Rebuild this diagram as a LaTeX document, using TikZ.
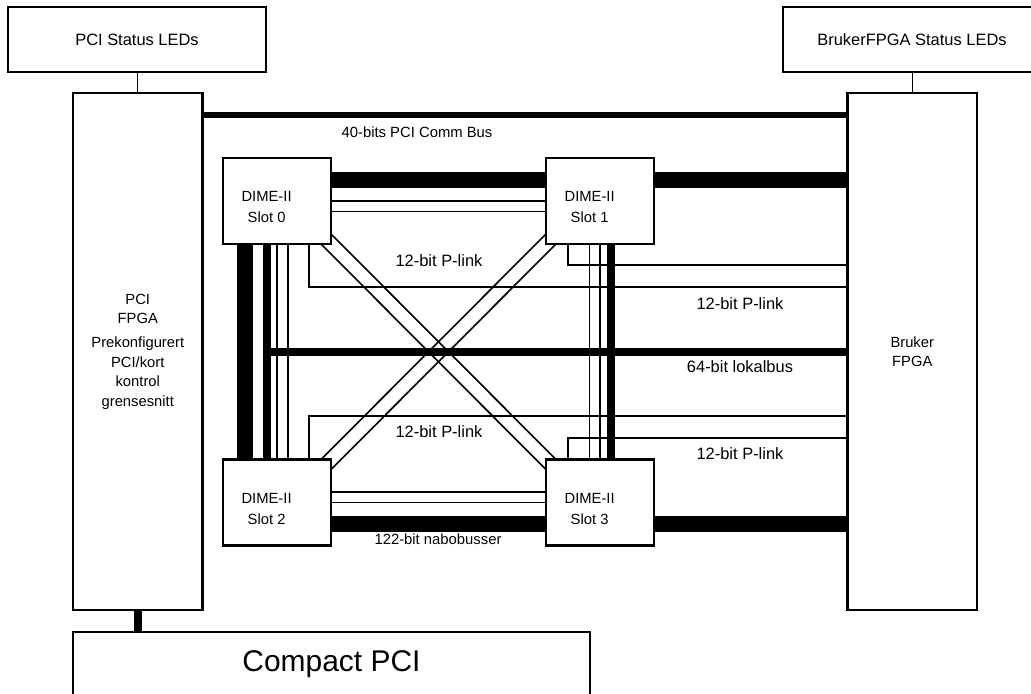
\documentclass[tikz,border=0pt]{standalone}
\usepackage{fontspec}
\setmainfont{Liberation Sans}
\usetikzlibrary{positioning,backgrounds}

\begin{document}
\begin{tikzpicture}[
  block/.style={draw=black,fill=white,line width=1.6pt,align=center,inner sep=0pt,
    font=\fontsize{10.5}{13.9}\selectfont},
  leds/.style={block,minimum width=6.45cm,minimum height=1.625cm,
    font=\fontsize{11.7}{14}\selectfont},
  fpga/.style={block,minimum width=3.2375cm,minimum height=12.925cm},
  slottext/.style={xshift=-0.26cm,yshift=-0.16cm,align=center,inner sep=0pt,
    font=\fontsize{10.5}{15}\selectfont},
  slot/.style={block,minimum width=2.7cm,minimum height=2.15cm,
    label={[slottext]center:{DIME-II\\Slot #1}}},
  board/.style={block,minimum width=12.925cm,minimum height=1.625cm,
    font=\fontsize{21.3}{24}\selectfont},
  buslabel/.style={inner sep=0pt,font=\fontsize{11.7}{13}\selectfont},
  smalllabel/.style={inner sep=0pt,font=\fontsize{10.55}{12}\selectfont},
  wire/.style={draw=black,line width=0.7pt},
  plink/.style={draw=black,line width=1.15pt},
  nbus/.style={draw=black,line width=0.4cm},
  lbus/.style={draw=black,line width=0.2cm},
  pcibus/.style={draw=black,line width=0.16cm}
]
\useasboundingbox (0,0) rectangle (25.775,-17.35);
\clip (0,0) rectangle (25.775,-17.35);

\node[leds] (pcileds) at (3.425,-0.9875) {PCI Status LEDs};
\node[leds] (brukerleds) at (22.8,-0.9875) {BrukerFPGA Status LEDs};

\node[fpga] (pcifpga) at (3.444,-8.7875)
  {PCI\\FPGA\\[3pt]Prekonfigurert\\PCI/kort\\kontrol\\grensesnitt};
\node[fpga] (brukerfpga) at (22.806,-8.7875) {Bruker\\FPGA};

\node[slot=0] (s0) at (6.925,-5.025) {};
\node[slot=1] (s1) at (15.0,-5.025) {};
\node[slot=2] (s2) at (6.925,-12.5625) {};
\node[slot=3] (s3) at (15.0,-12.5625) {};

\node[board] (cpci) at (8.2875,-16.6125) {Compact PCI};

% bus rows and columns
\coordinate (pcirow) at (0,-2.875);
\coordinate (nbtop) at (0,-4.4875);
\coordinate (nbbot) at (0,-13.1);
\coordinate (nbleft) at (6.125,0);
\coordinate (lbleft) at (6.6625,0);
\coordinate (lbright) at (15.275,0);
\coordinate (lbrow) at (0,-8.8);
\coordinate (pl1row) at (0,-6.625);
\coordinate (pl0row) at (0,-7.175);
\coordinate (pl2row) at (0,-10.4);
\coordinate (pl3row) at (0,-10.95);

\begin{pgfonlayer}{background}
\draw[wire] (pcileds.south) -- (pcileds.south |- pcifpga.north);
\draw[wire] (brukerleds.south) -- (brukerleds.south |- brukerfpga.north);
\draw[pcibus] (pcifpga.east |- pcirow) -- (brukerfpga.west |- pcirow);
\draw[lbus] (pcifpga.south) -- (pcifpga.south |- cpci.north);

% neighbour bus
\draw[nbus] (s0.east |- nbtop) -- (s1.west |- nbtop);
\draw[nbus] (s1.east |- nbtop) -- (brukerfpga.west |- nbtop);
\draw[nbus] (s0.south -| nbleft) -- (s2.north -| nbleft);
\draw[nbus] (s2.east |- nbbot) -- (s3.west |- nbbot);
\draw[nbus] (s3.east |- nbbot) -- (brukerfpga.west |- nbbot);

% local bus
\draw[lbus] (s0.south -| lbleft) -- (s2.north -| lbleft);
\draw[lbus] (s1.south -| lbright) -- (s3.north -| lbright);
\draw[lbus] (lbleft |- lbrow) -- (brukerfpga.west |- lbrow);

% P-links between slots
\foreach \dy in {0,-0.26}
  \draw[plink] ([yshift=\dy cm]s0.east) -- ([yshift=\dy cm]s1.west);
\foreach \dy in {0,0.27}
  \draw[plink] ([yshift=\dy cm]s2.east) -- ([yshift=\dy cm]s3.west);
\foreach \dx in {0,0.28}
  \draw[plink] ([xshift=\dx cm]s0.south) -- ([xshift=\dx cm]s2.north);
\foreach \dx in {-0.26,0}
  \draw[plink] ([xshift=\dx cm]s1.south) -- ([xshift=\dx cm]s3.north);
\foreach \d/\e in {-0.125/0.125,0.125/-0.125} {
  \draw[plink,shorten <=-0.3cm,shorten >=-0.3cm]
    ([shift={(\d,\d)}]s0.south east) -- ([shift={(\d,\d)}]s3.north west);
  \draw[plink,shorten <=-0.3cm,shorten >=-0.3cm]
    ([shift={(\d,\e)}]s1.south west) -- ([shift={(\d,\e)}]s2.north east);
}

% P-links to Bruker FPGA
\draw[plink] ([xshift=0.8cm]s0.south) |- (brukerfpga.west |- pl0row);
\draw[plink] ([xshift=-0.8cm]s1.south) |- (brukerfpga.west |- pl1row);
\draw[plink] ([xshift=0.8cm]s2.north) |- (brukerfpga.west |- pl2row);
\draw[plink] ([xshift=-0.8cm]s3.north) |- (brukerfpga.west |- pl3row);
\end{pgfonlayer}

\node[smalllabel] (lblpci) at (10.425,-3.3) {40-bits PCI Comm Bus};
\node[buslabel] (lblx0) at (10.975,-6.525) {12-bit P-link};
\node[buslabel] (lblx1) at (10.975,-10.8) {12-bit P-link};
\node[buslabel] (lblbr0) at (18.5,-7.6) {12-bit P-link};
\node[buslabel] (lbllokal) at (18.5,-9.175) {64-bit lokalbus};
\node[buslabel] (lblbr1) at (18.5,-11.35) {12-bit P-link};
\node[smalllabel] (lblnabo) at (10.95,-13.475) {122-bit nabobusser};
\end{tikzpicture}
\end{document}
